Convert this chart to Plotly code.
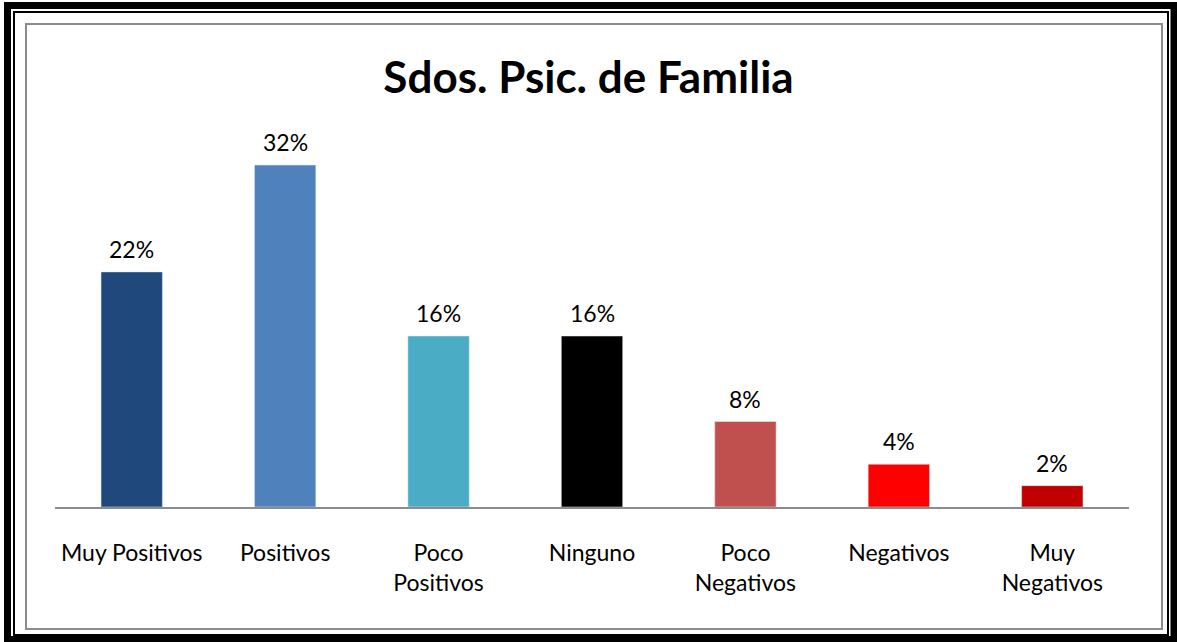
import plotly.graph_objects as go

categories = ["Muy Positivos", "Positivos", "Poco<br>Positivos", "Ninguno",
              "Poco<br>Negativos", "Negativos", "Muy<br>Negativos"]
values = [22, 32, 16, 16, 8, 4, 2]
labels = ["22%", "32%", "16%", "16%", "8%", "4%", "2%"]
colors = ["#1F497D", "#4F81BD", "#4BACC6", "#000000", "#C0504D", "#FF0000", "#C00000"]

W, H = 1177, 642
ML, MR, MT, MB = 55, 48, 133, 135
PW, PH = W - ML - MR, H - MT - MB

def px(x):
    return (x - ML) / PW

def py(y):
    return (H - MB - y) / PH

fig = go.Figure()
fig.add_trace(go.Bar(x=categories, y=values, marker_color=colors, width=0.4,
                     hoverinfo="skip"))

for c, v, t in zip(categories, values, labels):
    fig.add_annotation(x=c, y=v, text=t, showarrow=False, yanchor="bottom",
                       yshift=7, font=dict(family="Lato", size=23, color="#000"))

frames = [
    (7.5, 5.5, 1174, 639.5, 7, "#000"),
    (14, 12, 1168, 635, 2, "#000"),
    (26, 24, 1162, 629, 2, "#8C8C8C"),
]
for x0, y0, x1, y1, w, col in frames:
    fig.add_shape(type="rect", xref="paper", yref="paper",
                  x0=px(x0), x1=px(x1), y0=py(y0), y1=py(y1),
                  line=dict(color=col, width=w), fillcolor="rgba(0,0,0,0)")

fig.update_layout(
    width=W, height=H,
    margin=dict(l=ML, r=MR, t=MT, b=MB),
    paper_bgcolor="white", plot_bgcolor="white",
    showlegend=False, bargap=0.6,
    title=dict(text="<b>Sdos. Psic. de Familia</b>", x=0.5, xref="container",
               y=1 - 78 / H, yanchor="middle",
               font=dict(family="Lato", size=44, color="#000")),
    xaxis=dict(showline=True, linecolor="#8C8C8C", linewidth=2,
               ticks="outside", ticklen=24, tickcolor="rgba(0,0,0,0)",
               tickfont=dict(family="Lato", size=23, color="#000"),
               showgrid=False, zeroline=False, fixedrange=True),
    yaxis=dict(range=[0, 35], visible=False, showgrid=False, fixedrange=True),
)

fig.write_html("out.html", config={"displayModeBar": False})
